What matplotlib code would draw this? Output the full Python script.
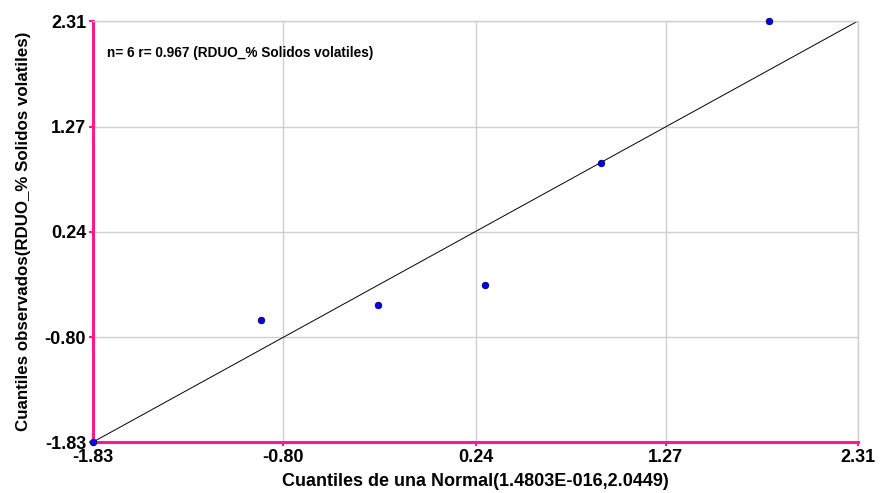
import matplotlib
matplotlib.use('Agg')
import matplotlib.pyplot as plt

# Data
normal_q = [-1.83, -0.92, -0.29, 0.29, 0.92, 1.83]
observed_q = [-1.83, -0.63, -0.48, -0.29, 0.91, 2.31]
ticks = [-1.83, -0.80, 0.24, 1.27, 2.31]
tick_labels = ['-1.83', '-0.80', '0.24', '1.27', '2.31']

plt.rcParams['font.family'] = ['Liberation Sans', 'DejaVu Sans']
pink = '#ff1a8c'

fig = plt.figure(figsize=(8.8, 4.93), dpi=100)
ax = fig.add_axes([0.1057, 0.1034, 0.8693, 0.854])

ax.set_xlim(ticks[0], ticks[-1])
ax.set_ylim(ticks[0], ticks[-1])

# Grid
ax.set_xticks(ticks)
ax.set_yticks(ticks)
ax.set_xticklabels(tick_labels, fontsize=13, fontweight='bold')
ax.set_yticklabels(tick_labels, fontsize=13, fontweight='bold')
ax.grid(True, color='#d0d0d0', linewidth=1)
ax.set_axisbelow(True)

# Reference line
ax.plot([ticks[0], ticks[-1]], [ticks[0], ticks[-1]], color='black', linewidth=0.7, zorder=2)

# Points
ax.scatter(normal_q, observed_q, s=22, color='#0000ee', edgecolors='#000066',
           linewidths=0.6, zorder=3, clip_on=False)

# Spines
for side in ['left', 'bottom']:
    ax.spines[side].set_color(pink)
    ax.spines[side].set_linewidth(2.2)
for side in ['top', 'right']:
    ax.spines[side].set_color('#d0d0d0')
    ax.spines[side].set_linewidth(1)
ax.tick_params(axis='both', colors=pink, length=3, width=1.5, pad=2)
for lab in ax.get_xticklabels() + ax.get_yticklabels():
    lab.set_color('black')

ax.set_xlabel('Cuantiles de una Normal(1.4803E-016,2.0449)', fontsize=13,
              fontweight='bold', labelpad=5)
ax.set_ylabel('Cuantiles observados(RDUO_% Solidos volatiles)', fontsize=12.2,
              fontweight='bold', labelpad=10)

ax.text(0.018, 0.925, 'n= 6 r= 0.967 (RDUO_% Solidos volatiles)', transform=ax.transAxes,
        fontsize=9.8, fontweight='bold', va='center', ha='left')

fig.savefig('out.png', dpi=100)
